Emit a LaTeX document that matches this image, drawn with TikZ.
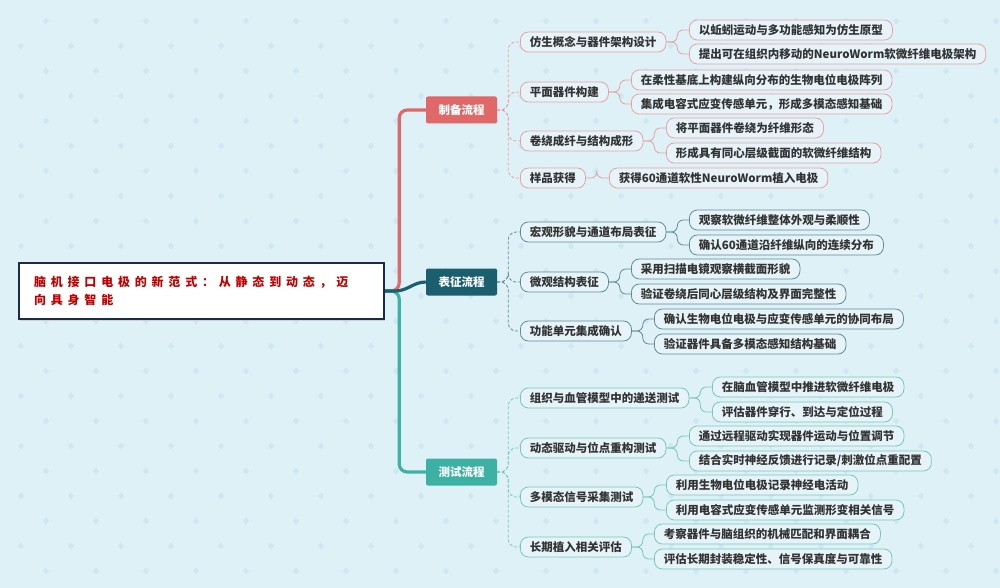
\documentclass[tikz,border=0pt]{standalone}
\usepackage{fontspec}
\setmainfont{Noto Sans CJK SC}
\newfontfamily\rootfont[LetterSpace=40]{Noto Sans CJK SC}
\usetikzlibrary{positioning, calc}
\definecolor{BgBlue}{HTML}{DEF1F7}
\definecolor{DotBlue}{HTML}{CDE8F2}
\definecolor{BoxFill}{HTML}{E6F4F9}
\definecolor{TextGray}{HTML}{333333}
\definecolor{RootRed}{HTML}{C00000}
\definecolor{RootNavy}{HTML}{1C2B48}
\definecolor{PrepRed}{HTML}{E06868}
\definecolor{PrepLine}{HTML}{E6A2A2}
\definecolor{CharTeal}{HTML}{1B5F6E}
\definecolor{CharLine}{HTML}{5F8C95}
\definecolor{TestTeal}{HTML}{3DB2A4}
\definecolor{TestLine}{HTML}{76C7BA}
\tikzset{
	branchbox/.style={rounded corners=2pt, minimum width=71pt, minimum height=27pt, inner sep=0pt, text=white},
	itembox/.style={draw, fill=BoxFill, rounded corners=8pt, minimum height=20pt, inner ysep=0pt, inner xsep=9.5pt, line width=0.8pt, anchor=west},
	trunk/.style={line width=3.2pt},
	dashlink/.style={line width=0.8pt, dash pattern=on 3pt off 2pt, rounded corners=8pt},
	leaflink/.style={line width=0.8pt, rounded corners=6pt},
}

\begin{document}
\begin{tikzpicture}[x=1pt, y=-1pt, every node/.style={font=\bfseries\fontsize{11.5}{13}\selectfont, text=TextGray}]
	\fill[BgBlue] (0,0) rectangle (1000,588);
	\useasboundingbox (0,0) rectangle (1000,588);
	
	% background pattern
	\foreach \i in {0,...,19}{
		\foreach \j in {0,...,11}{
			\fill[DotBlue] (46+50*\i,17.5+50*\j) -- ++(3,3.5) -- ++(-3,3.5) -- ++(-3,-3.5) -- cycle;
			\fill[DotBlue] (21+50*\i,42.5+50*\j) -- ++(3,3.5) -- ++(-3,3.5) -- ++(-3,-3.5) -- cycle;}}
	
	% root
	\fill[black!18] (20,265) rectangle (385,321);
	\node[draw=RootNavy, line width=2.2pt, fill=white, anchor=west, minimum width=365pt, minimum height=56pt,
		text width=335pt, inner xsep=15pt, align=left, text=RootRed,
		font=\rootfont\bfseries\fontsize{12}{18}\selectfont] (root) at (18,291)
		{脑机接口电极的新范式：从静态到动态，迈\\向具身智能};
	
	% branches
	\node[branchbox, fill=PrepRed] (prep) at (461.5,110) {制备流程};
	\node[branchbox, fill=CharTeal] (char) at (461.5,282) {表征流程};
	\node[branchbox, fill=TestTeal] (test) at (461.5,472) {测试流程};
	
	\draw[trunk, PrepRed, rounded corners=8pt] (root.east) -- ++(14,0) |- (prep.west);
	\draw[trunk, TestTeal, rounded corners=8pt] (root.east) -- ++(14,0) |- (test.west);
	\draw[trunk, CharTeal] (root.east) -- ++(10,0) to[out=0, in=180] (char.west);
	
	% 制备流程
	\node[itembox, draw=PrepLine] (p1) at (520,42) {仿生概念与器件架构设计};
	\node[itembox, draw=PrepLine] (p2) at (520,92) {平面器件构建};
	\node[itembox, draw=PrepLine] (p3) at (520,141) {卷绕成纤与结构成形};
	\node[itembox, draw=PrepLine] (p4) at (520,178) {样品获得};
	\node[itembox, draw=PrepLine] (p1a) at (689,30) {以蚯蚓运动与多功能感知为仿生原型};
	\node[itembox, draw=PrepLine] (p1b) at (689,54) {提出可在组织内移动的NeuroWorm软微纤维电极架构};
	\node[itembox, draw=PrepLine] (p2a) at (631,80) {在柔性基底上构建纵向分布的生物电位电极阵列};
	\node[itembox, draw=PrepLine] (p2b) at (631,104) {集成电容式应变传感单元，形成多模态感知基础};
	\node[itembox, draw=PrepLine] (p3a) at (666,128) {将平面器件卷绕为纤维形态};
	\node[itembox, draw=PrepLine] (p3b) at (666,153) {形成具有同心层级截面的软微纤维结构};
	\node[itembox, draw=PrepLine] (p4a) at (609,178) {获得60通道软性NeuroWorm植入电极};
	
	% 表征流程
	\node[itembox, draw=CharLine] (c1) at (520,232) {宏观形貌与通道布局表征};
	\node[itembox, draw=CharLine] (c2) at (520,282) {微观结构表征};
	\node[itembox, draw=CharLine] (c3) at (520,331) {功能单元集成确认};
	\node[itembox, draw=CharLine] (c1a) at (689,220) {观察软微纤维整体外观与柔顺性};
	\node[itembox, draw=CharLine] (c1b) at (689,245) {确认60通道沿纤维纵向的连续分布};
	\node[itembox, draw=CharLine] (c2a) at (631,269) {采用扫描电镜观察横截面形貌};
	\node[itembox, draw=CharLine] (c2b) at (631,294) {验证卷绕后同心层级结构及界面完整性};
	\node[itembox, draw=CharLine] (c3a) at (654,319) {确认生物电位电极与应变传感单元的协同布局};
	\node[itembox, draw=CharLine] (c3b) at (654,344) {验证器件具备多模态感知结构基础};
	
	% 测试流程
	\node[itembox, draw=TestLine] (t1) at (520,398) {组织与血管模型中的递送测试};
	\node[itembox, draw=TestLine] (t2) at (520,448) {动态驱动与位点重构测试};
	\node[itembox, draw=TestLine] (t3) at (520,497) {多模态信号采集测试};
	\node[itembox, draw=TestLine] (t4) at (520,547) {长期植入相关评估};
	\node[itembox, draw=TestLine] (t1a) at (712,387) {在脑血管模型中推进软微纤维电极};
	\node[itembox, draw=TestLine] (t1b) at (712,412) {评估器件穿行、到达与定位过程};
	\node[itembox, draw=TestLine] (t2a) at (689,436) {通过远程驱动实现器件运动与位置调节};
	\node[itembox, draw=TestLine] (t2b) at (689,461) {结合实时神经反馈进行记录/刺激位点重配置};
	\node[itembox, draw=TestLine] (t3a) at (666,485) {利用生物电位电极记录神经电活动};
	\node[itembox, draw=TestLine] (t3b) at (666,510) {利用电容式应变传感单元监测形变相关信号};
	\node[itembox, draw=TestLine] (t4a) at (654,534) {考察器件与脑组织的机械匹配和界面耦合};
	\node[itembox, draw=TestLine] (t4b) at (654,559) {评估长期封装稳定性、信号保真度与可靠性};
	
	% links
	\foreach \c in {p1,p2,p3,p4}{
		\draw[dashlink, PrepLine] (prep.east) -- ++(11,0) |- (\c.west);}
	\foreach \c in {c1,c2,c3}{
		\draw[dashlink, CharLine] (char.east) -- ++(11,0) |- (\c.west);}
	\foreach \c in {t1,t2,t3,t4}{
		\draw[dashlink, TestLine] (test.east) -- ++(11,0) |- (\c.west);}
	
	\foreach \p/\c in {p1/p1a, p1/p1b, p2/p2a, p2/p2b, p3/p3a, p3/p3b, p4/p4a}{
		\draw[leaflink, PrepLine] (\p.east) -- ++(11,0) |- (\c.west);}
	\foreach \p/\c in {c1/c1a, c1/c1b, c2/c2a, c2/c2b, c3/c3a, c3/c3b}{
		\draw[leaflink, CharLine] (\p.east) -- ++(11,0) |- (\c.west);}
	\foreach \p/\c in {t1/t1a, t1/t1b, t2/t2a, t2/t2b, t3/t3a, t3/t3b, t4/t4a, t4/t4b}{
		\draw[leaflink, TestLine] (\p.east) -- ++(11,0) |- (\c.west);}
\end{tikzpicture}
\end{document}
